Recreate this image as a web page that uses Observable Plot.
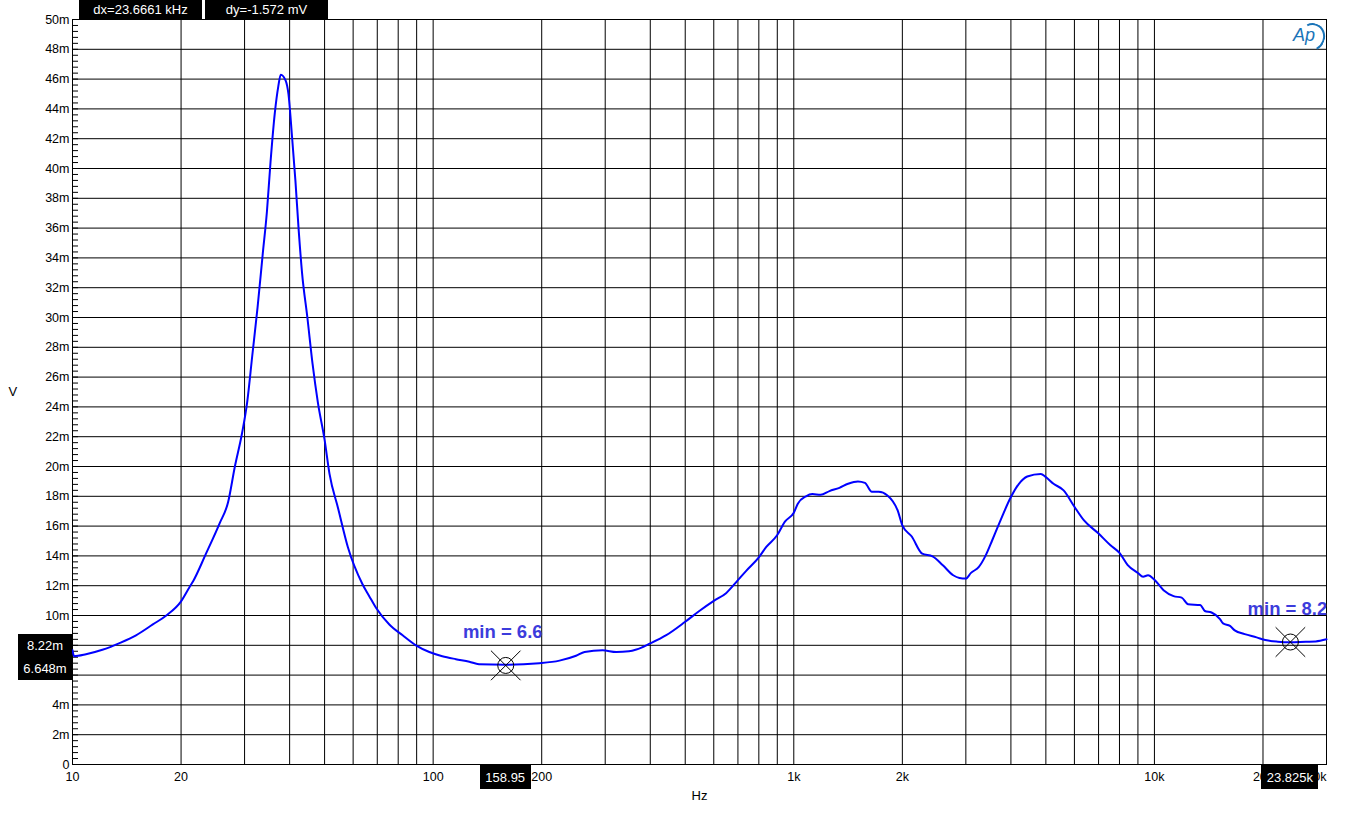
<!DOCTYPE html>
<html><head><meta charset="utf-8">
<script src="https://cdn.jsdelivr.net/npm/d3@7"></script>
<script src="https://cdn.jsdelivr.net/npm/@observablehq/plot@0.6"></script>
<style>
body{margin:0;background:#fff;font-family:Arial,"Liberation Sans",sans-serif;}
#wrap{position:relative;width:1348px;height:829px;overflow:hidden;}
.box{position:absolute;background:#000;color:#fff;font-size:13px;display:flex;align-items:center;justify-content:center;white-space:nowrap;line-height:1;}
.logo{position:absolute;color:#1a74b8;}
</style></head><body><div id="wrap"></div>
<script>
// ---- data (frequency in Hz, level in mV) ----
const freq = [10,10.1,10.9,12.1,13.5,15.0,16.7,18.2,20,21.1,21.6,23.4,25.6,27.0,28.2,29.5,30.5,31.5,32.6,33.7,34.6,35.4,36.4,37.2,37.8,39.0,39.7,40.6,41.5,42.4,43.3,44.8,46.3,47.9,50.0,51.6,54.5,58.0,63.7,66.5,69.5,75.6,82.3,89.6,97.6,106,115.6,126,134,159,197,224,249,263,295,322,349,366,400,443,500,547,600,649,700,738,800,839,900,945,1000,1026,1081,1126,1187,1256,1338,1414,1506,1575,1646,1720,1818,1941,2000,2124,2270,2425,2590,2767,2880,3000,3100,3260,3400,3550,3710,4000,4210,4440,4840,5000,5250,5600,6000,6370,7000,7540,8000,8420,9000,9300,9600,10000,10600,11300,11900,12400,13400,13800,14400,15200,15500,16200,16700,17800,19200,20300,22000,23800,26300,28000,30000];
const level = [7.67,7.27,7.4,7.7,8.15,8.67,9.4,10.0,10.95,11.9,12.3,14.1,16.2,17.6,20.0,22.2,24.3,27.4,30.7,34.3,37.1,40.4,43.75,45.5,46.3,45.9,45.0,42.2,39.2,35.8,33.0,30.0,26.9,24.3,21.8,19.5,17.2,14.6,12.1,11.3,10.5,9.4,8.67,8.0,7.55,7.27,7.07,6.9,6.73,6.7,6.8,6.97,7.3,7.55,7.66,7.55,7.6,7.72,8.13,8.68,9.58,10.3,10.98,11.5,12.37,13.0,13.9,14.6,15.4,16.3,16.9,17.5,18.0,18.15,18.1,18.35,18.57,18.84,19.0,18.9,18.3,18.3,18.06,17.05,16.05,15.3,14.15,13.97,13.37,12.7,12.52,12.48,12.86,13.26,14.0,15.05,16.16,17.95,18.84,19.33,19.5,19.29,18.84,18.4,17.3,16.4,15.5,14.73,14.2,13.4,12.85,12.6,12.7,12.4,11.7,11.3,11.2,10.75,10.7,10.3,10.2,9.76,9.47,9.3,9.0,8.75,8.53,8.35,8.24,8.2,8.24,8.26,8.4];

const gridFreqs = [20,30,40,50,60,70,80,90,100,200,300,400,500,600,700,800,900,1000,2000,3000,4000,5000,6000,7000,8000,9000,10000,20000];
const xTickValues = [10,20,50,100,200,500,1000,2000,5000,10000,20000];
const xTickLabels = ["10","20","50","100","200","500","1k","2k","5k","10k","20k"];
const xLastTick = 30000, xLastLabel = "30k";
const yTicks = [0,2,4,6,8,10,12,14,16,18,20,22,24,26,28,30,32,34,36,38,40,42,44,46,48,50];
const yHiddenLabels = [6, 8]; // covered by the cursor readout box
const yMinor = d3.range(0, 50.001, 0.4);

const markerFreq = [158.95, 23825];
const markerLevel = [6.648, 8.22];
const markerLabel = ["min = 6.6", "min = 8.2"];
const cursorXLabels = ["158.95", "23.825k"];
const cursorYLabels = ["8.22m", "6.648m"];
const headerLabels = ["dx=23.6661 kHz", "dy=-1.572 mV"];

const data = freq.map((f, i) => ({f, v: level[i]}));
const markers = markerFreq.map((f, i) => ({f, v: markerLevel[i], label: markerLabel[i]}));
const xLabelMap = new Map(xTickValues.map((v, i) => [v, xTickLabels[i]]));

const chart = Plot.plot({
  width: 1348, height: 829,
  marginLeft: 72, marginRight: 22, marginTop: 19, marginBottom: 65,
  style: {fontFamily: 'Arial, "Liberation Sans", sans-serif', fontSize: "12.5px", color: "#000", background: "#fff", overflow: "visible"},
  x: {type: "log", domain: [10, 30000]},
  y: {domain: [0, 50]},
  marks: [
    Plot.ruleX(gridFreqs, {stroke: "#000", strokeWidth: 1}),
    Plot.ruleY(yTicks, {stroke: "#000", strokeWidth: 1}),
    Plot.frame({stroke: "#000", strokeWidth: 1}),
    Plot.axisY({ticks: yTicks.filter(d => !yHiddenLabels.includes(d)), tickSize: 0, tickPadding: 3, tickFormat: d => d === 0 ? "0" : d + "m", label: null}),
    Plot.axisY({ticks: yMinor, tickSize: -6, tickFormat: () => "", label: null}),
    Plot.axisX({ticks: xTickValues, tickSize: 0, tickPadding: 8, tickFormat: d => xLabelMap.get(d), label: null}),
    Plot.text([xLastTick], {x: d => d, frameAnchor: "bottom", dy: 16, textAnchor: "end", text: () => xLastLabel}),
    Plot.line(data, {x: "f", y: "v", stroke: "#0000ff", strokeWidth: 2, curve: "monotone-x"}),
    Plot.dot(markers, {x: "f", y: "v", r: 8, stroke: "#000", fill: "none", strokeWidth: 1}),
    Plot.dot(markers, {x: "f", y: "v", r: 13.5, symbol: "times", stroke: "#000", strokeWidth: 1}),
    Plot.text(markers, {x: "f", y: "v", text: "label", dx: -3, dy: -33, fill: "#3c3cdc", fontWeight: "bold", fontSize: 18.5}),
    Plot.text(["V"], {frameAnchor: "left", dx: -64, fontSize: 13, text: d => d}),
    Plot.text(["Hz"], {frameAnchor: "bottom", dy: 35, fontSize: 13, text: d => d})
  ]
});

const wrap = document.getElementById("wrap");
wrap.appendChild(chart);
const sx = chart.scale("x"), sy = chart.scale("y");
function box(text, left, top, w, h) {
  const d = document.createElement("div");
  d.className = "box";
  d.style.left = left + "px"; d.style.top = top + "px";
  d.style.width = w + "px"; d.style.height = h + "px";
  d.textContent = text;
  wrap.appendChild(d);
  return d;
}
box(headerLabels[0], 79, 0, 123, 19);
box(headerLabels[1], 205, 0, 123, 19);
const xw = [51, 57];
markerFreq.forEach((f, i) => {
  const cx = sx.apply(f);
  box(cursorXLabels[i], cx - xw[i] / 2, 765, xw[i], 24);
});
const yTop = sy.apply(markerLevel[1]) - 7.5;
const yBot = sy.apply(markerLevel[0]) + 15;
const yb = box("", 18, yTop, 54, yBot - yTop);
yb.style.flexDirection = "column";
yb.style.justifyContent = "space-around";
cursorYLabels.forEach(t => { const s = document.createElement("div"); s.textContent = t; yb.appendChild(s); });
const arc = document.createElement("div");
arc.className = "logo";
Object.assign(arc.style, {left: "1299px", top: "23px", width: "22px", height: "24px", border: "2px solid transparent", borderRightColor: "#1a74b8", borderTopColor: "#1a74b8", borderRadius: "50%", transform: "rotate(20deg)"});
wrap.appendChild(arc);
const ap = document.createElement("div");
ap.className = "logo";
Object.assign(ap.style, {left: "1293px", top: "25px", fontSize: "18px", fontStyle: "italic", fontFamily: "Arial, sans-serif"});
ap.textContent = "Ap";
wrap.appendChild(ap);
</script></body></html>
